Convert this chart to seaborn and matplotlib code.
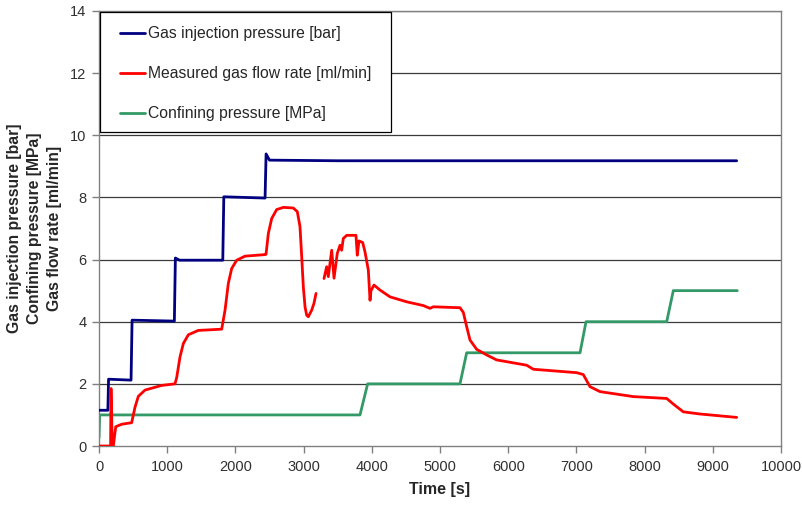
import numpy as np
import pandas as pd
import seaborn as sns
import matplotlib
matplotlib.use("Agg")
import matplotlib.pyplot as plt
from matplotlib.lines import Line2D
from matplotlib.patches import Rectangle

# Gas injection pressure [bar]
inj_t = [0, 130, 140, 470, 485, 1105, 1120, 1180, 1815, 1830, 2435, 2450, 2500,
         3500, 5000, 7000, 9350]
inj_v = [1.15, 1.15, 2.15, 2.12, 4.05, 4.02, 6.05, 5.98, 5.98, 8.02, 7.98, 9.4, 9.2,
         9.18, 9.18, 9.18, 9.18]

# Measured gas flow rate [ml/min] (first run, until the logger dropout)
flow_t1 = [0, 170, 176, 195, 210, 245, 332, 479, 528, 577, 675, 919, 1114,
           1139, 1188, 1237, 1310, 1456, 1799, 1848, 1896, 1945, 2019, 2141, 2434,
           2449, 2483, 2532, 2605, 2703, 2849, 2908, 2947, 2972, 2996, 3021, 3045,
           3069, 3118, 3152, 3182]
flow_v1 = [0.0, 0.0, 1.85, 0.0, 0.0, 0.62, 0.7, 0.75, 1.25, 1.6, 1.8, 1.95, 2.0,
           2.2, 2.87, 3.3, 3.58, 3.72, 3.76, 4.37, 5.23, 5.71, 5.98, 6.11, 6.16,
           6.17, 6.84, 7.32, 7.61, 7.68, 7.66, 7.54, 7.06, 6.1, 5.12, 4.48, 4.21,
           4.16, 4.37, 4.59, 4.91]
# Measured gas flow rate [ml/min] (after the dropout)
flow_t2 = [3299, 3338, 3362, 3412, 3446, 3494, 3534, 3558, 3582, 3632, 3768,
           3787, 3812, 3866, 3900, 3949, 3974, 3988, 4032, 4120, 4267, 4512, 4755,
           4853, 4902, 5293, 5342, 5391, 5440, 5538, 5685, 5831, 6271, 6368, 7004,
           7101, 7199, 7346, 7834, 8324, 8421, 8567, 8812, 9350]
flow_v2 = [5.39, 5.77, 5.45, 6.3, 5.4, 6.2, 6.46, 6.3, 6.68, 6.78, 6.78,
           6.14, 6.6, 6.55, 6.25, 5.66, 4.69, 5.0, 5.18, 5.02, 4.8, 4.64, 4.52,
           4.43, 4.48, 4.45, 4.3, 3.84, 3.41, 3.11, 2.93, 2.77, 2.6, 2.47, 2.36,
           2.3, 1.91, 1.75, 1.59, 1.53, 1.35, 1.1, 1.03, 0.92]

# Confining pressure [MPa]
conf_t = [0, 10, 3827, 3939, 5293, 5391, 7053, 7141, 8324, 8421, 9359]
conf_v = [0.26, 1.0, 1.0, 2.0, 2.0, 3.0, 3.0, 4.0, 4.0, 5.0, 5.0]

labels = ["Gas injection pressure [bar]",
          "Measured gas flow rate [ml/min]",
          "Confining pressure [MPa]"]
colors = ["#000080", "#FF0000", "#339966"]

x_ticks = list(range(0, 10001, 1000))
y_ticks = list(range(0, 15, 2))

sns.set_theme(style="white")
plt.rcParams["font.family"] = ["Liberation Sans", "DejaVu Sans"]

W, H = 802, 505
fig = plt.figure(figsize=(W / 100, H / 100), dpi=100)
ax = fig.add_axes([99 / W, 1 - 446 / H, (781 - 99) / W, (446 - 11) / H])

inj = pd.DataFrame({"t": inj_t, "v": inj_v})
flow = pd.concat([
    pd.DataFrame({"t": flow_t1, "v": flow_v1, "seg": 0}),
    pd.DataFrame({"t": flow_t2, "v": flow_v2, "seg": 1}),
])
conf = pd.DataFrame({"t": conf_t, "v": conf_v})

lw = 2.0
sns.lineplot(data=inj, x="t", y="v", color=colors[0], lw=lw, sort=False,
             estimator=None, ax=ax, zorder=3)
sns.lineplot(data=flow, x="t", y="v", units="seg", color=colors[1], lw=lw,
             sort=False, estimator=None, ax=ax, zorder=4)
sns.lineplot(data=conf, x="t", y="v", color=colors[2], lw=lw, sort=False,
             estimator=None, ax=ax, zorder=2)

ax.set_xlim(0, 10000)
ax.set_ylim(0, 14)
ax.set_xticks(x_ticks)
ax.set_yticks(y_ticks)
ax.tick_params(axis="both", which="major", direction="out", length=5, width=1,
               color="#808080", labelsize=10.5, labelcolor="#303030", pad=4,
               left=True, bottom=True)
ax.tick_params(axis="x", pad=5)

for y in y_ticks[1:]:
    ax.axhline(y, color="#3a3a3a", lw=0.9, zorder=1)

for side in ["left", "bottom", "right", "top"]:
    ax.spines[side].set_visible(True)
    ax.spines[side].set_color("#808080")
    ax.spines[side].set_linewidth(1.0)

ax.set_xlabel("Time [s]", fontsize=11.5, fontweight="bold", labelpad=6)
ax.set_ylabel("Gas injection pressure [bar]\nConfining pressure [MPa]\nGas flow rate [ml/min]",
              fontsize=11.3, fontweight="bold", linespacing=1.4, labelpad=6)
ax.yaxis.label.set_multialignment("center")

# Legend box drawn in figure pixels, entries placed inside it
frame = Rectangle((100 / W, 1 - 132 / H), (391 - 100) / W, (132 - 12) / H,
                  transform=fig.transFigure, facecolor="white",
                  edgecolor="black", lw=0.9, zorder=9)
fig.add_artist(frame)
handles = [Line2D([0], [0], color=c, lw=2.0) for c in colors]
leg = fig.legend(handles, labels, loc="upper left",
                 bbox_to_anchor=(120 / W, 1 - 26 / H),
                 fontsize=11.3, frameon=False, borderpad=0,
                 labelspacing=1.6, handlelength=1.6, handletextpad=0.2,
                 borderaxespad=0)
leg.set_zorder(10)

fig.savefig("out.png", dpi=100)
